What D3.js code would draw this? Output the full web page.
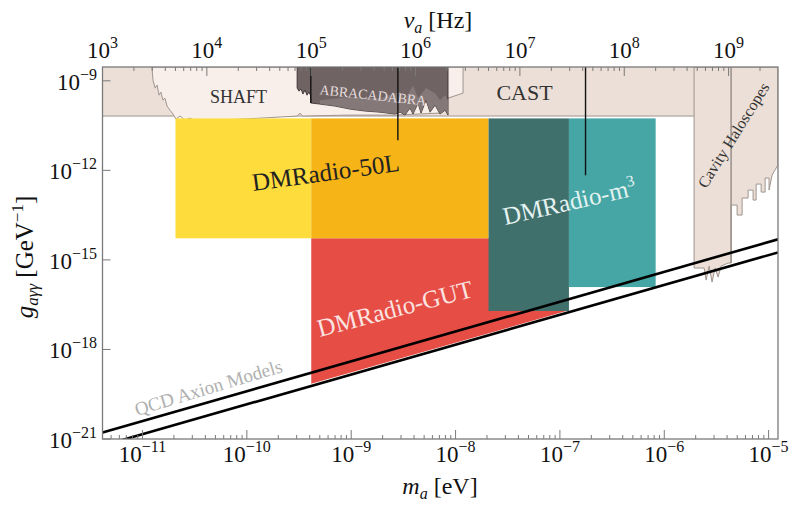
<!DOCTYPE html>
<html>
<head>
<meta charset="utf-8">
<script src="https://cdn.jsdelivr.net/npm/d3@7"></script>
<style>
  body { margin: 0; background: #fff; }
  svg { display: block; }
  text { font-family: "Liberation Serif", "DejaVu Serif", serif; }
</style>
</head>
<body>
<div id="chart"></div>
<script>
// ---- data (mass in eV, coupling in GeV^-1) ----
const H_EV = 4.1357e-15;           // Planck constant, eV s
const G_TOP = 2.9e-9;              // top of the plotted coupling range
const massRange = [4.1357e-12, 1.23e-5];
const gRange = [1e-21, 2.9e-9];
const massTicks = [1e-11, 1e-10, 1e-9, 1e-8, 1e-7, 1e-6, 1e-5];
const freqTicks = [1e3, 1e4, 1e5, 1e6, 1e7, 1e8, 1e9];
const gTicks = [1e-21, 1e-18, 1e-15, 1e-12, 1e-9];

// CAST limit (flat)
const castG = 6.6e-11;

// SHAFT limit curve
const shaft = [[1.23e-11, G_TOP], [1.26e-11, 1.05e-9], [1.32e-11, 5.7e-10], [1.38e-11, 7.2e-10],
  [1.44e-11, 3.3e-10], [1.50e-11, 4.2e-10], [1.57e-11, 2.25e-10], [1.64e-11, 2.63e-10],
  [1.72e-11, 1.42e-10], [1.83e-11, 1.04e-10], [1.96e-11, 7.7e-11], [2.09e-11, 5.2e-11],
  [2.29e-11, 6.6e-11], [2.55e-11, 4.8e-11], [2.85e-11, 5.6e-11], [3.26e-11, 4.5e-11],
  [5.53e-11, 4.8e-11], [1.34e-10, 5.6e-11], [3.03e-10, 6.6e-11], [3.23e-10, 8.3e-11],
  [3.4e-10, 6.6e-11], [9.7e-10, 7.1e-11], [2.63e-9, 7.1e-11], [7.1e-9, 8.3e-11],
  [8.47e-9, 2.63e-10], [1.18e-8, 3.86e-10], [1.18e-8, G_TOP]];

// ABRACADABRA limit curve
const abra = [[3.03e-10, G_TOP], [3.03e-10, 5.7e-10], [3.16e-10, 4.5e-10], [3.30e-10, 5.3e-10],
  [3.45e-10, 3.6e-10], [3.61e-10, 4.9e-10], [3.77e-10, 3.3e-10], [3.94e-10, 4.2e-10],
  [4.1e-10, 3.1e-10], [4.1e-10, 1.8e-10], [5.0e-10, 1.66e-10], [7.0e-10, 1.42e-10],
  [9.7e-10, 1.13e-10], [1.36e-9, 9.7e-11], [1.89e-9, 8.9e-11], [2.63e-9, 7.7e-11],
  [2.94e-9, 8.9e-11], [3.28e-9, 7.1e-11], [3.66e-9, 1.22e-10], [3.91e-9, 7.7e-11],
  [4.37e-9, 1.79e-10], [4.67e-9, 8.3e-11], [5.21e-9, 2.25e-10], [5.70e-9, 8.9e-11],
  [6.36e-9, 1.53e-10], [7.10e-9, 7.7e-11], [7.93e-9, 1.04e-10], [8.47e-9, 7.1e-11],
  [8.47e-9, G_TOP]];
// lighter inner band of ABRACADABRA
const abraInner = [[5.0e-10, 2.25e-10], [9.7e-10, 2.84e-10], [1.89e-9, 2.63e-10], [2.94e-9, 4.18e-10],
  [3.28e-9, 2.25e-10], [3.91e-9, 7.16e-10], [4.37e-9, 2.63e-10], [5.21e-9, 5.7e-10],
  [6.36e-9, 3.86e-10], [7.1e-9, 2.25e-10], [7.93e-9, 3.31e-10], [8.47e-9, 2.25e-10]];

// cavity haloscopes
const cavity = [[1.93e-6, G_TOP], [1.93e-6, 5.33e-16], [2.41e-6, 5.33e-16], [2.52e-6, 2.11e-16],
  [2.69e-6, 6.22e-16], [2.87e-6, 1.81e-16], [3.07e-6, 5.33e-16], [3.28e-6, 2.66e-16],
  [3.51e-6, 6.22e-16], [4.09e-6, 7.83e-16], [4.37e-6, 7.83e-16], [4.37e-6, 6.87e-14],
  [4.99e-6, 6.87e-14], [4.99e-6, 3.18e-14], [5.57e-6, 3.18e-14], [5.57e-6, 1.18e-13],
  [6.36e-6, 1.18e-13], [6.36e-6, 2.18e-13], [7.10e-6, 2.18e-13], [7.10e-6, 1.01e-13],
  [7.59e-6, 1.01e-13], [7.59e-6, 3.47e-13], [8.48e-6, 3.47e-13], [8.48e-6, 1.87e-13],
  [9.26e-6, 1.87e-13], [9.26e-6, 5.51e-13], [1.01e-5, 5.51e-13], [1.01e-5, 2.18e-13],
  [1.08e-5, 6.93e-13], [1.15e-5, 1.02e-12], [1.23e-5, 1.5e-12], [1.23e-5, G_TOP]];
const admxMass = 4.37e-6, admxG = 7.83e-16;

// DMRadio projected reach
const dmrMassLo = [2.07e-11, 4.14e-10, 2.07e-8, 1.22e-7];
const dmrMassHi = [4.14e-10, 2.07e-8, 1.22e-7, 8.27e-7];
const dmrGLo = [5.3e-15, 5.3e-15, 1.95e-17, 1.23e-16];
const dmrGHi = [5.5e-11, 5.5e-11, 5.5e-11, 5.5e-11];
const gutMass = [4.14e-10, 1.2e-7];
const gutTop = 5.3e-15;
const gutBottom = [7.1e-20, 2.0e-17];

// QCD axion band edges
const qcdMass = [4.1357e-12, 1.23e-5];
const qcdUpper = [1.65e-21, 4.9e-15];
const qcdLower = [6.0e-22, 1.78e-15];

// vertical marker lines [mass, lower coupling]
const markers = [[4.1e-10, 1.8e-10], [2.8e-9, 1.02e-11], [1.76e-7, 6.9e-13]];

// ---- layout ----
const W = 800, H = 506;
const margin = {top: 67, right: 22, bottom: 67, left: 102.5};
const colors = {beige: "#ecdfd7", shaft: "#f8eeea", edge: "#9f958f", abra: "#6f6363",
  abraInner: "#8a7e7d", yellow: "#fddc3b", orange: "#f7b416", red: "#e64d45",
  tealDark: "#3f706c", teal: "#46a6a5", axis: "#7a7a7a"};
const dmrColors = [colors.yellow, colors.orange, colors.tealDark, colors.teal];

const svg = d3.select("#chart").append("svg").attr("width", W).attr("height", H);

let x = d3.scaleLog().domain(massRange).range([margin.left, W - margin.right]);
let y = d3.scaleLog().domain(gRange).range([H - margin.bottom, margin.top]);
let f = d3.scaleLog().domain(massRange.map(m => m / H_EV)).range(x.range());

svg.append("clipPath").attr("id", "clip").append("rect")
    .attr("x", margin.left).attr("y", margin.top)
    .attr("width", W - margin.left - margin.right)
    .attr("height", H - margin.top - margin.bottom);
let plot = svg.append("g").attr("clip-path", "url(#clip)");

let line = d3.line().x(d => x(d[0])).y(d => y(d[1]));

// CAST
plot.append("path")
    .attr("d", line([[massRange[0], G_TOP], [massRange[0], castG], [massRange[1], castG], [massRange[1], G_TOP]]))
    .attr("fill", colors.beige).attr("stroke", colors.edge).attr("stroke-width", 1);

// SHAFT
plot.append("path").attr("d", line(shaft) + "Z")
    .attr("fill", colors.shaft).attr("stroke", colors.edge).attr("stroke-width", 1);

// ABRACADABRA
plot.append("path").attr("d", line(abra) + "Z")
    .attr("fill", colors.abra).attr("stroke", "#2e2727").attr("stroke-width", 0.8);
let abraBottom = abra.filter(d => d[0] >= 5.0e-10 && d[1] < G_TOP).reverse();
plot.append("path").attr("d", line(abraInner.concat(abraBottom)) + "Z")
    .attr("fill", colors.abraInner).attr("opacity", 0.8);

// cavity haloscopes
plot.append("path").attr("d", line(cavity) + "Z")
    .attr("fill", colors.beige).attr("stroke", colors.edge).attr("stroke-width", 1);
plot.append("line")
    .attr("x1", x(admxMass)).attr("x2", x(admxMass))
    .attr("y1", y(G_TOP)).attr("y2", y(admxG))
    .attr("stroke", colors.edge).attr("stroke-width", 1.6);

// DMRadio-GUT
plot.append("path")
    .attr("d", line([[gutMass[0], gutTop], [gutMass[1], gutTop], [gutMass[1], gutBottom[1]], [gutMass[0], gutBottom[0]]]) + "Z")
    .attr("fill", colors.red);

// DMRadio-50L and DMRadio-m3
plot.selectAll("rect.dmr").data(dmrMassLo).enter().append("rect")
    .attr("class", "dmr")
    .attr("x", (d, i) => x(dmrMassLo[i]))
    .attr("width", (d, i) => x(dmrMassHi[i]) - x(dmrMassLo[i]))
    .attr("y", (d, i) => y(dmrGHi[i]))
    .attr("height", (d, i) => y(dmrGLo[i]) - y(dmrGHi[i]))
    .attr("fill", (d, i) => dmrColors[i]);

// marker lines
plot.selectAll("line.marker").data(markers).enter().append("line")
    .attr("x1", d => x(d[0])).attr("x2", d => x(d[0]))
    .attr("y1", y(G_TOP)).attr("y2", d => y(d[1]))
    .attr("stroke", "#111").attr("stroke-width", 1.4);

// QCD lines
[qcdUpper, qcdLower].forEach(function(g) {
    plot.append("path")
        .attr("d", line(qcdMass.map((m, i) => [m, g[i]])))
        .attr("fill", "none").attr("stroke", "#000").attr("stroke-width", 2.6);
});

// ---- labels in the plot ----
function label(txt, px, py, angle, size, color, anchor) {
    return svg.append("text")
        .attr("transform", `translate(${px},${py}) rotate(${angle})`)
        .attr("text-anchor", anchor || "middle")
        .attr("font-size", size).attr("fill", color)
        .text(txt);
}
label("SHAFT", x(8.3e-11), y(1.79e-10), 0, 18, "#333");
label("ABRACADABRA", x(1.6e-9), y(2.3e-10), 6, 14, "#e6dcdc");
label("CAST", x(4.58e-8), y(2.25e-10), 0, 22, "#333");
label("Cavity Haloscopes", x(2.52e-6), y(2.35e-13), -58, 16, "#333", "start");
label("DMRadio-50L", x(1.15e-10), y(2.02e-13), -7.9, 25, "#222", "start");
label("DMRadio-GUT", x(5.0e-10), y(2.6e-18), -14.7, 25, "#fbe3e1", "start");
label("QCD Axion Models", x(8.85e-12), y(5.9e-21), -16.8, 19, "#b0b0b0", "start");
let m3 = label("DMRadio-m", x(2.98e-8), y(1.47e-14), -12.8, 25, "#e4f2f1", "start");
m3.append("tspan").attr("dy", -10).attr("font-size", 16).text("3");

// ---- axes ----
let gAx = svg.append("g").attr("fill", "none").attr("stroke", colors.axis).attr("stroke-width", 1);
function minors(lo, hi) {
    let out = [];
    for (let p = Math.floor(Math.log10(lo)); p <= Math.ceil(Math.log10(hi)); p++)
        for (let k = 2; k <= 9; k++) {
            let v = k * Math.pow(10, p);
            if (v > lo && v < hi) out.push(v);
        }
    return out;
}
let y0 = H - margin.bottom, y1 = margin.top;
minors(massRange[0], massRange[1]).forEach(v =>
    gAx.append("line").attr("x1", x(v)).attr("x2", x(v)).attr("y1", y0).attr("y2", y0 - 4));
massTicks.forEach(v =>
    gAx.append("line").attr("x1", x(v)).attr("x2", x(v)).attr("y1", y0).attr("y2", y0 - 9));
let fd = f.domain();
minors(fd[0], fd[1]).forEach(v =>
    gAx.append("line").attr("x1", f(v)).attr("x2", f(v)).attr("y1", y1).attr("y2", y1 + 4));
freqTicks.forEach(v =>
    gAx.append("line").attr("x1", f(v)).attr("x2", f(v)).attr("y1", y1).attr("y2", y1 + 9));
gTicks.forEach(v =>
    gAx.append("line").attr("x1", margin.left).attr("x2", margin.left + 8).attr("y1", y(v)).attr("y2", y(v)));
gAx.append("rect")
    .attr("x", margin.left).attr("y", margin.top)
    .attr("width", W - margin.left - margin.right)
    .attr("height", H - margin.top - margin.bottom)
    .attr("stroke-width", 1.3);

function powText(px, py, v, anchor) {
    let e = Math.round(Math.log10(v));
    let t = svg.append("text").attr("x", px).attr("y", py)
        .attr("text-anchor", anchor).attr("font-size", 23).attr("fill", "#111");
    t.append("tspan").text("10");
    t.append("tspan").attr("dy", -10).attr("font-size", 16).text(e < 0 ? "\u2212" + (-e) : e);
}
massTicks.forEach(v => powText(x(v), 462, v, "middle"));
freqTicks.forEach(v => powText(f(v), 58, v, "middle"));
gTicks.forEach(v => powText(97, y(v) + 9, v, "end"));

// axis titles
let tb = svg.append("text").attr("x", 440).attr("y", 494).attr("text-anchor", "middle")
    .attr("font-size", 24).attr("fill", "#111");
tb.append("tspan").attr("font-style", "italic").text("m");
tb.append("tspan").attr("font-style", "italic").attr("font-size", 16).attr("dy", 5).text("a");
tb.append("tspan").attr("dy", -5).text(" [eV]");

let tt = svg.append("text").attr("x", 438).attr("y", 28).attr("text-anchor", "middle")
    .attr("font-size", 24).attr("fill", "#111");
tt.append("tspan").attr("font-style", "italic").text("\u03bd");
tt.append("tspan").attr("font-style", "italic").attr("font-size", 16).attr("dy", 5).text("a");
tt.append("tspan").attr("dy", -5).text(" [Hz]");

let tl = svg.append("text").attr("transform", "translate(33,257) rotate(-90)")
    .attr("text-anchor", "middle").attr("font-size", 25).attr("fill", "#111");
tl.append("tspan").attr("font-style", "italic").text("g");
tl.append("tspan").attr("font-style", "italic").attr("font-size", 17).attr("dy", 5).text("a\u03b3\u03b3");
tl.append("tspan").attr("dy", -5).text(" [GeV");
tl.append("tspan").attr("font-size", 17).attr("dy", -10).text("\u22121");
tl.append("tspan").attr("dy", 10).text("]");
</script>
</body>
</html>
